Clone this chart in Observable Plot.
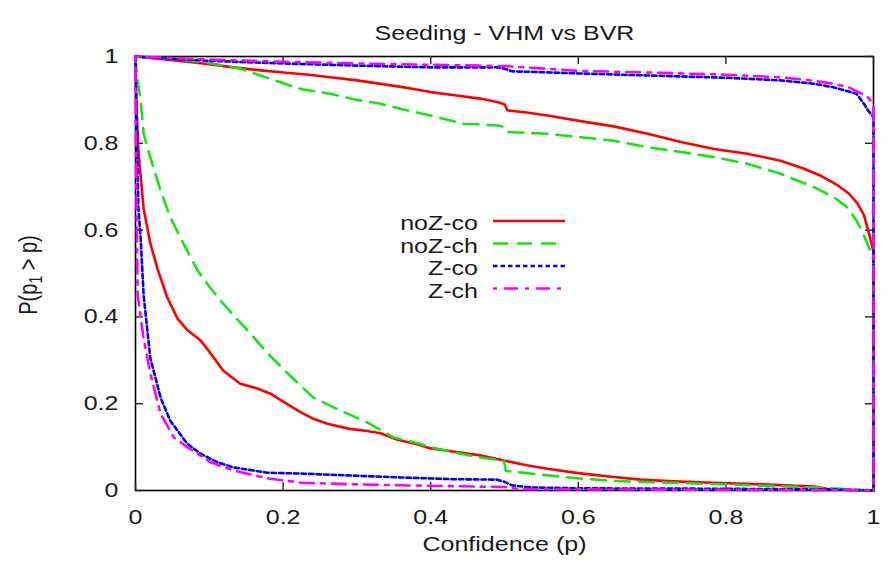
<!DOCTYPE html>
<html><head><meta charset="utf-8">
<script src="https://cdn.jsdelivr.net/npm/d3@7"></script>
<script src="https://cdn.jsdelivr.net/npm/@observablehq/plot@0.6"></script>
<style>body{margin:0;background:#fff;} #chart svg{display:block;}</style>
</head><body><div id="chart"></div>
<script>
const title = "Seeding - VHM vs BVR";
const xLabel = "Confidence (p)";
const xTicks = [0, 0.2, 0.4, 0.6, 0.8, 1];
const yTicks = [0, 0.2, 0.4, 0.6, 0.8, 1];
const seriesNames = ["noZ-co", "noZ-ch", "Z-co", "Z-ch"];

// noZ-co (upper and lower curves)
const noZcoUpperP = [0, 0.03, 0.07, 0.1, 0.133, 0.17, 0.2, 0.235, 0.264, 0.3, 0.332, 0.36, 0.4, 0.435, 0.467, 0.49, 0.5, 0.504, 0.53, 0.558, 0.607, 0.648, 0.694, 0.739, 0.784, 0.829, 0.874, 0.905, 0.93, 0.95, 0.966, 0.978, 0.987, 0.995, 1, 1];
const noZcoUpperV = [1, 0.995, 0.988, 0.982, 0.975, 0.968, 0.963, 0.958, 0.952, 0.945, 0.937, 0.93, 0.918, 0.91, 0.903, 0.895, 0.89, 0.876, 0.871, 0.864, 0.85, 0.839, 0.822, 0.803, 0.787, 0.776, 0.76, 0.742, 0.724, 0.705, 0.685, 0.662, 0.635, 0.585, 0.55, 0];
const noZcoLowerP = [0, 0.001, 0.004, 0.011, 0.02, 0.03, 0.038, 0.043, 0.057, 0.07, 0.088, 0.1, 0.119, 0.142, 0.165, 0.183, 0.2, 0.224, 0.24, 0.26, 0.29, 0.314, 0.332, 0.355, 0.38, 0.4, 0.43, 0.467, 0.499, 0.53, 0.558, 0.6, 0.648, 0.684, 0.73, 0.783, 0.85, 0.92, 0.94, 1];
const noZcoLowerV = [1, 0.9, 0.78, 0.65, 0.57, 0.51, 0.47, 0.445, 0.396, 0.37, 0.346, 0.32, 0.276, 0.246, 0.235, 0.223, 0.205, 0.18, 0.166, 0.154, 0.142, 0.137, 0.132, 0.117, 0.107, 0.097, 0.09, 0.081, 0.069, 0.058, 0.05, 0.04, 0.031, 0.025, 0.021, 0.018, 0.014, 0.009, 0.003, 0];

// noZ-ch
const noZchUpperP = [0, 0.05, 0.1, 0.142, 0.18, 0.224, 0.264, 0.3, 0.332, 0.36, 0.4, 0.445, 0.49, 0.5, 0.504, 0.558, 0.603, 0.648, 0.694, 0.739, 0.784, 0.829, 0.874, 0.919, 0.946, 0.964, 0.977, 0.986, 0.995, 1, 1];
const noZchUpperV = [1, 0.995, 0.985, 0.972, 0.95, 0.925, 0.914, 0.9, 0.891, 0.879, 0.864, 0.845, 0.841, 0.838, 0.826, 0.822, 0.814, 0.806, 0.791, 0.78, 0.768, 0.753, 0.73, 0.699, 0.676, 0.653, 0.622, 0.592, 0.555, 0.53, 0];
const noZchLowerP = [0, 0.002, 0.007, 0.011, 0.02, 0.034, 0.047, 0.065, 0.084, 0.1, 0.115, 0.135, 0.152, 0.179, 0.206, 0.241, 0.278, 0.314, 0.35, 0.38, 0.4, 0.43, 0.467, 0.499, 0.502, 0.558, 0.6, 0.648, 0.7, 0.78, 0.85, 0.92, 1];
const noZchLowerV = [1, 0.952, 0.899, 0.822, 0.768, 0.691, 0.63, 0.569, 0.507, 0.47, 0.438, 0.4, 0.369, 0.316, 0.27, 0.214, 0.184, 0.157, 0.122, 0.11, 0.1, 0.088, 0.076, 0.069, 0.045, 0.035, 0.028, 0.022, 0.019, 0.015, 0.011, 0.007, 0];

// Z-co
const ZcoUpperP = [0, 0.1, 0.2, 0.3, 0.4, 0.49, 0.5, 0.51, 0.6, 0.7, 0.8, 0.874, 0.92, 0.946, 0.965, 0.977, 0.986, 0.993, 1, 1];
const ZcoUpperV = [1, 0.99, 0.984, 0.979, 0.975, 0.975, 0.972, 0.966, 0.961, 0.956, 0.951, 0.945, 0.937, 0.929, 0.92, 0.914, 0.894, 0.875, 0.86, 0];
const ZcoLowerP = [0, 0.002, 0.004, 0.007, 0.011, 0.02, 0.034, 0.047, 0.07, 0.088, 0.11, 0.133, 0.179, 0.224, 0.3, 0.36, 0.43, 0.49, 0.5, 0.51, 0.535, 0.6, 0.8, 0.95, 1];
const ZcoLowerV = [1, 0.8, 0.65, 0.58, 0.45, 0.306, 0.214, 0.161, 0.108, 0.085, 0.066, 0.053, 0.041, 0.039, 0.034, 0.03, 0.026, 0.025, 0.02, 0.012, 0.007, 0.005, 0.004, 0.002, 0];

// Z-ch
const ZchUpperP = [0, 0.1, 0.2, 0.3, 0.4, 0.5, 0.6, 0.7, 0.8, 0.874, 0.92, 0.946, 0.965, 0.982, 0.993, 1, 1];
const ZchUpperV = [1, 0.993, 0.988, 0.984, 0.981, 0.978, 0.967, 0.963, 0.958, 0.952, 0.944, 0.937, 0.93, 0.916, 0.905, 0.89, 0];
const ZchLowerP = [0, 0.001, 0.003, 0.011, 0.02, 0.034, 0.052, 0.07, 0.102, 0.133, 0.179, 0.224, 0.3, 0.36, 0.43, 0.5, 0.52, 0.7, 0.9, 1];
const ZchLowerV = [1, 0.7, 0.45, 0.35, 0.27, 0.177, 0.122, 0.1, 0.065, 0.046, 0.028, 0.018, 0.014, 0.012, 0.01, 0.008, 0.003, 0.002, 0.001, 0];

// styles
const styles = {
  "noZ-co": {stroke: "#ff0000", dash: null},
  "noZ-ch": {stroke: "#14e614", dash: "15,9"},
  "Z-co":   {stroke: "#0000ff", dash: "4.5,3"},
  "Z-ch":   {stroke: "#ff00ff", dash: "4,7,14,7"}
};

function rows(P, V, part) { return P.map((p, i) => ({p, v: V[i], part})); }
const seriesData = {
  "noZ-co": rows(noZcoUpperP, noZcoUpperV, "upper").concat(rows(noZcoLowerP, noZcoLowerV, "lower")),
  "noZ-ch": rows(noZchUpperP, noZchUpperV, "upper").concat(rows(noZchLowerP, noZchLowerV, "lower")),
  "Z-co":   rows(ZcoUpperP, ZcoUpperV, "upper").concat(rows(ZcoLowerP, ZcoLowerV, "lower")),
  "Z-ch":   rows(ZchUpperP, ZchUpperV, "upper").concat(rows(ZchLowerP, ZchLowerV, "lower"))
};

const W = 889, H = 563, mL = 135, mR = 16, mT = 56, mB = 73;
const tickLenY = 8 / (H - mT - mB);
const tickLenX = 8 / (W - mL - mR);
const fmt = d => (d === 0 || d === 1) ? String(d) : d.toFixed(1);

const chart = Plot.plot({
  width: W, height: H,
  marginLeft: mL, marginRight: mR, marginTop: mT, marginBottom: mB,
  style: {fontFamily: "'Liberation Sans', Arial, sans-serif", fontSize: "20px", color: "#1a1a1a", background: "#fff"},
  x: {domain: [0, 1], ticks: xTicks, tickFormat: fmt, tickSize: 0, tickPadding: 19, label: null},
  y: {domain: [0, 1], ticks: yTicks, tickFormat: fmt, tickSize: 0, tickPadding: 17, label: null},
  marks: [
    Plot.frame({stroke: "#000", strokeWidth: 1.6}),
    Plot.ruleX(xTicks, {x: d => d, y1: 0, y2: tickLenY, stroke: "#222", strokeWidth: 1.4}),
    Plot.ruleX(xTicks, {x: d => d, y1: 1, y2: 1 - tickLenY, stroke: "#222", strokeWidth: 1.4}),
    Plot.ruleY(yTicks, {y: d => d, x1: 0, x2: tickLenX, stroke: "#222", strokeWidth: 1.4}),
    Plot.ruleY(yTicks, {y: d => d, x1: 1, x2: 1 - tickLenX, stroke: "#222", strokeWidth: 1.4}),
    ...seriesNames.map(name => Plot.line(seriesData[name], {
      x: "p", y: "v", z: "part", stroke: styles[name].stroke, strokeWidth: 2.6,
      strokeDasharray: styles[name].dash, strokeLinejoin: "round", curve: "linear"
    })),
    Plot.text([title], {text: d => d, frameAnchor: "top", dy: -31, fontSize: 20}),
    Plot.text([xLabel], {text: d => d, frameAnchor: "bottom", dy: 60, fontSize: 20})
  ]
});
document.getElementById("chart").appendChild(chart);

const svg = d3.select(chart);
const STRETCH = 1.25;
function stretch(sel) {
  sel.each(function() {
    const w = this.getComputedTextLength();
    if (w > 0) {
      this.setAttribute("textLength", (w * STRETCH).toFixed(1));
      this.setAttribute("lengthAdjust", "spacingAndGlyphs");
    }
  });
}
stretch(svg.selectAll("text"));

// y axis label with subscript
const yl = svg.append("text")
  .attr("transform", "translate(37,275) scale(1.25,1) rotate(-90)")
  .attr("text-anchor", "middle")
  .attr("fill", "#1a1a1a")
  .attr("font-size", 20);
yl.append("tspan").text("P(p");
yl.append("tspan").attr("font-size", 14).attr("dy", 4).text("1");
yl.append("tspan").attr("dy", -4).text(" > p)");

// legend
const legend = svg.append("g").attr("font-size", 20).attr("fill", "#1a1a1a");
const baselines = [230, 252.5, 275, 297.5];
seriesNames.forEach((name, i) => {
  const t = legend.append("text").attr("x", 478).attr("y", baselines[i]).attr("text-anchor", "end").text(name);
  stretch(t);
  legend.append("line")
    .attr("x1", 493).attr("x2", 565)
    .attr("y1", baselines[i] - 9).attr("y2", baselines[i] - 9)
    .attr("stroke", styles[name].stroke).attr("stroke-width", 2.6)
    .attr("stroke-dasharray", styles[name].dash);
});
</script>
</body></html>
